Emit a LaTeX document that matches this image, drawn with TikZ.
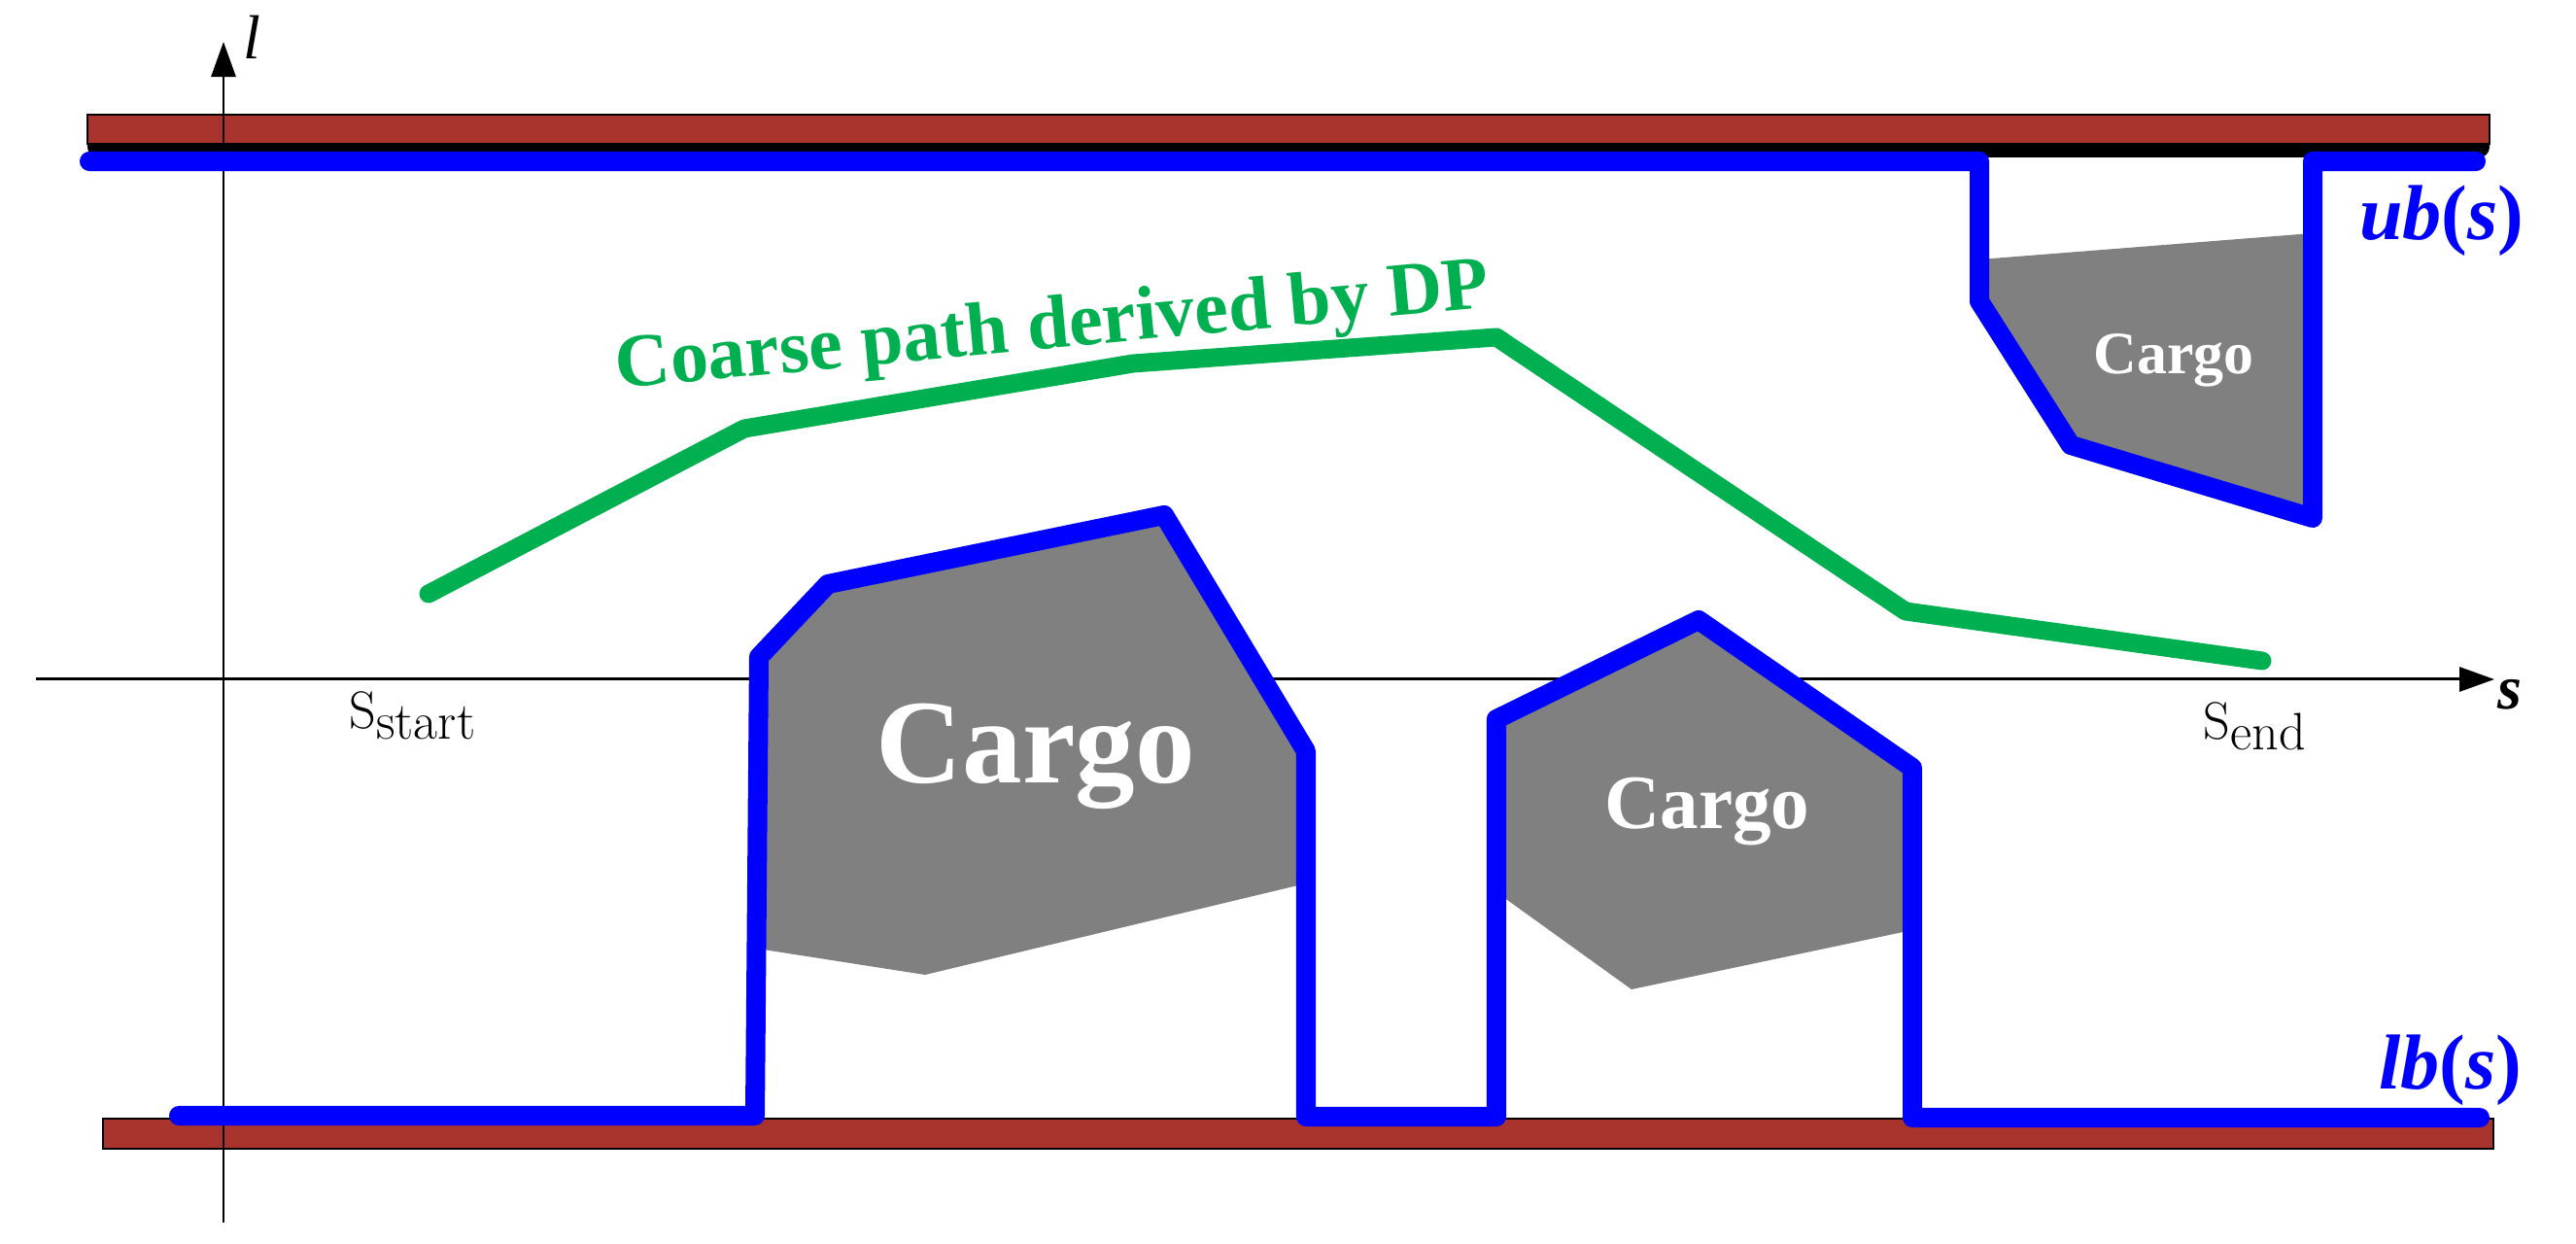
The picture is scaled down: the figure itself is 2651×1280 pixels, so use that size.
\documentclass[tikz,border=0pt]{standalone}
\usepackage{fontspec}
\newfontfamily\timesfont{Liberation Serif}
\usetikzlibrary{arrows.meta}
\definecolor{barred}{RGB}{169,52,46}
\definecolor{pathgreen}{RGB}{0,176,80}
\definecolor{cargogray}{RGB}{128,128,128}
\newcommand{\lowsub}[1]{\raisebox{-3pt}{#1}}
\newcommand{\upparen}[1]{\textup{(}#1\textup{)}}

\begin{document}
\begin{tikzpicture}[
 x=0.01cm, y=-0.01cm,
 axis/.style={line width=0.85pt, -{Triangle[length=3.6mm, width=2.5mm]}},
 wall/.style={draw=black, line width=0.6pt, fill=barred},
 cargo/.style={fill=cargogray, draw=none},
 bound/.style={draw=blue, line width=5.7pt, line cap=round, line join=round},
 coarse/.style={draw=pathgreen, line width=5.4pt, line cap=round, line join=round},
 cargotxt/.style={text=white, anchor=base, inner sep=0pt},
 boundtxt/.style={text=blue, anchor=base east, inner sep=0pt, font=\timesfont\bfseries\itshape\fontsize{22.8}{26}\selectfont},
 axistxt/.style={anchor=base west, inner sep=0pt},
]
\useasboundingbox (0,0) rectangle (2651,1280);

\fill[black, rounded corners=3pt] (90,132) rectangle (2562,162);
\draw[wall] (90,118) rectangle (2562,148);
\draw[wall] (106,1151) rectangle (2566,1182);

\draw[axis] (230,1258) -- (230,43);
\draw[axis] (37,699) -- (2567,699);

\fill[cargo] (779,976) -- (781,676) -- (852,601) -- (1198,530) -- (1344,773) -- (1344,909) -- (952,1003) -- cycle;
\fill[cargo] (1540,918) -- (1540,740) -- (1748,638) -- (1968,790) -- (1968,957) -- (1679,1018) -- cycle;
\fill[cargo] (2037,267) -- (2380,240) -- (2380,533) -- (2131,458) -- (2037,310) -- cycle;

\draw[bound] (92,166) -- (2037,166) -- (2037,310) -- (2131,458) -- (2380,533) -- (2380,166) -- (2548,166);
\draw[bound] (184,1148) -- (777,1148) -- (781,676) -- (852,601) -- (1198,530) -- (1344,773) -- (1344,1149)
  -- (1540,1149) -- (1540,740) -- (1748,638) -- (1968,790) -- (1968,1150) -- (2552,1150);

\draw[coarse] (441,611) -- (766,441) -- (1166,374) -- (1540,347) -- (1961,629) -- (2328,680);

\node[cargotxt, font=\timesfont\bfseries\fontsize{35}{40}\selectfont] (cargobig) at (1066,806) {Cargo};
\node[cargotxt, font=\timesfont\bfseries\fontsize{22.5}{26}\selectfont] (cargomid) at (1757,853) {Cargo};
\node[cargotxt, font=\timesfont\bfseries\fontsize{17.6}{20}\selectfont] (cargotop) at (2237,385) {Cargo};

\node[text=pathgreen, anchor=base, inner sep=0pt, rotate=5.3, font=\timesfont\bfseries\fontsize{22.2}{26}\selectfont] (coarselbl) at (1085,358) {Coarse path derived by DP};

\node[boundtxt] (ublbl) at (2598,247) {ub\upparen{s}};
\node[boundtxt] (lblbl) at (2596,1121) {lb\upparen{s}};

\node[axistxt, font=\timesfont\itshape\fontsize{18.2}{21}\selectfont] (llbl) at (250,61) {l};
\node[axistxt, font=\timesfont\bfseries\itshape\fontsize{18.2}{21}\selectfont] (slbl) at (2570,730) {s};

\node[axistxt, font=\fontsize{15.4}{18}\selectfont] (sstart) at (359,750) {S\lowsub{start}};
\node[axistxt, font=\fontsize{15.4}{18}\selectfont] (send) at (2267,761) {S\lowsub{end}};
\end{tikzpicture}
\end{document}
